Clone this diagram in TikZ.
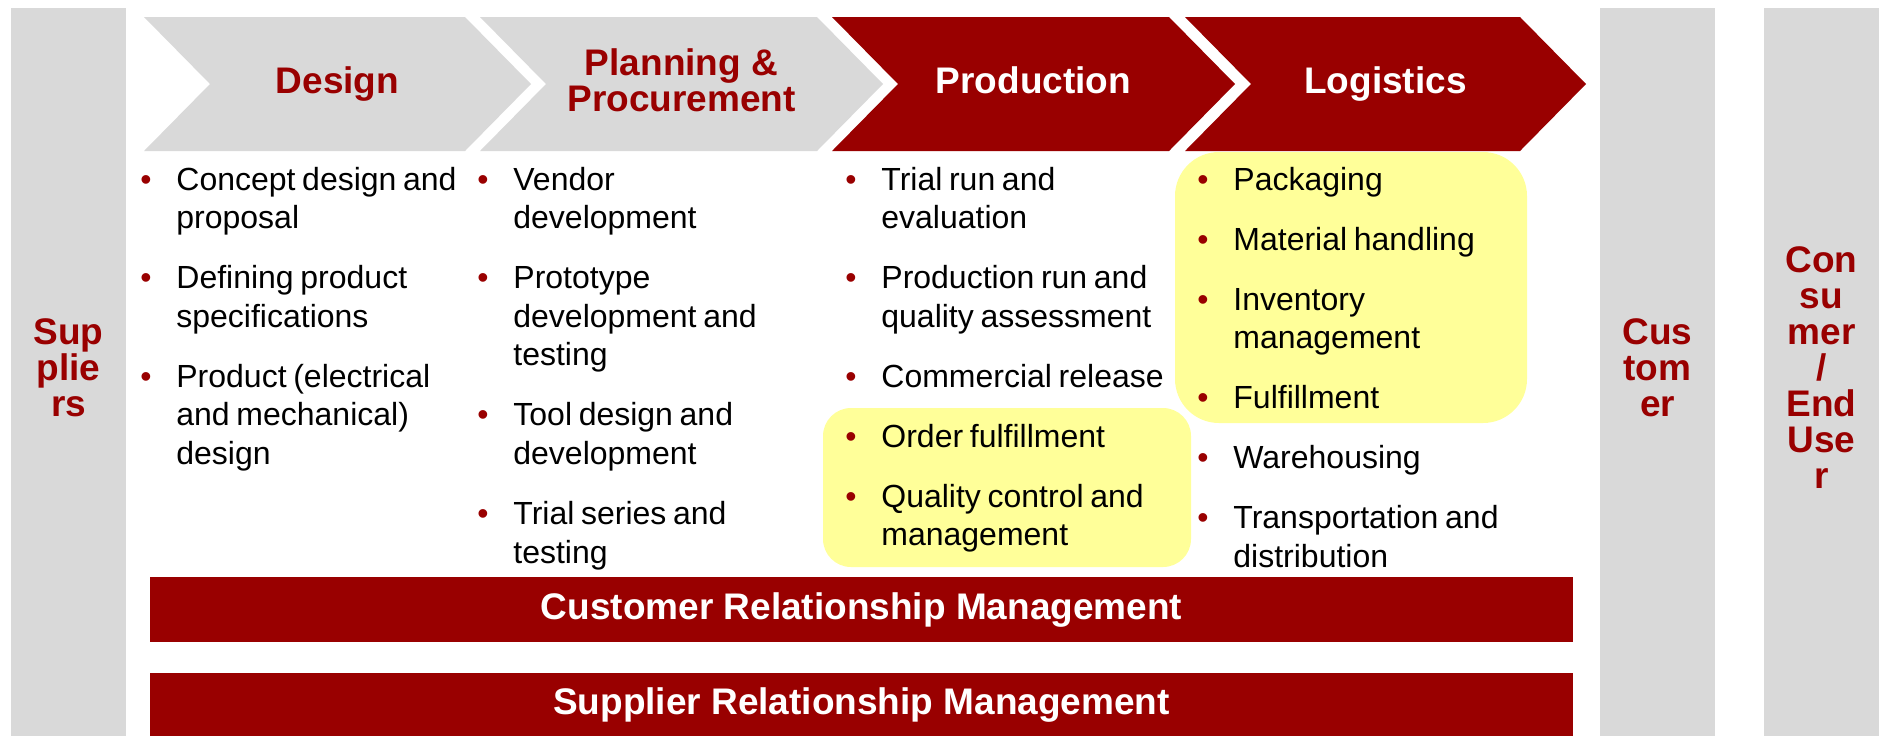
\documentclass[tikz,border=0pt]{standalone}
\usepackage{fontspec}
\setmainfont{Liberation Sans}
\usepackage{xcolor}
\definecolor{chainred}{HTML}{990000}
\definecolor{chaingray}{HTML}{D9D9D9}
\definecolor{chainyellow}{HTML}{FFFF99}
\usepackage{tikz}
\usetikzlibrary{math}

\newcommand{\headfont}{\fontsize{18.5pt}{18pt}\selectfont\bfseries}
\newcommand{\listfont}{\fontsize{16pt}{19.3pt}\selectfont\setlength{\parskip}{10.7pt}}
\newcommand{\itm}[1]{\noindent\hangindent=18pt\hangafter=1%
    \makebox[18pt][l]{\textcolor{chainred}{\textbullet}}#1\par}

\begin{document}
\begin{tikzpicture}[x=0.5pt, y=-0.5pt]
    \tikzset{%
        sidefill/.style={fill=chaingray},
        sidetext/.style={text=chainred, font=\headfont, align=center, inner sep=0pt},
        relbar/.style={fill=chainred, text=white, font=\headfont, inner sep=0pt, minimum width=711.5pt},
        hlbox/.style={fill=chainyellow, rounded corners=#1},
        bullets/.style={anchor=base west, inner sep=0pt, text width=180pt},
        pics/chevron/.style args={#1/#2/#3/#4}{code={%
                        \tikzmath{%
                            \chevh=134;
                            \chevd=66;
                        };
                        \fill [#2] (0, 0) -- ++(#1, 0) -- ++(\chevd, \chevh/2) -- ++(-\chevd, \chevh/2)
                            -- ++(-#1, 0) -- ++(\chevd, -\chevh/2) -- cycle;
                        \node (-label) at ({(\chevd+#1)/2}, 67) [text=#3, font=\headfont, align=center, inner sep=0pt] {#4\vphantom{g}};
                    }
            }
    }

    \useasboundingbox (0, 0) rectangle (1879, 736);

    \fill [sidefill] (11, 8) rectangle (126, 736);
    \fill [sidefill] (1600, 8) rectangle (1715, 736);
    \fill [sidefill] (1764, 8) rectangle (1879, 736);
    \node [sidetext] (suppliers) at (68.5, 368) {Sup\\plie\\rs};
    \node [sidetext] (customer) at (1657.5, 368) {Cus\\tom\\er};
    \node [sidetext] (consumer) at (1821.5, 368) {Con\\su\\mer\\/\\End\\Use\\r};

    \fill [hlbox=14pt] (823, 408) rectangle (1191, 567);
    \fill [hlbox=22pt] (1175, 152) rectangle (1527, 423);

    \pic (design) at (144, 17) {chevron=321/chaingray/chainred/Design};
    \pic (planning) at (480, 17) {chevron=337/chaingray/chainred/Planning \&\\Procurement};
    \pic (production) at (832, 17) {chevron=337/chainred/white/Production};
    \pic (logistics) at (1185, 17) {chevron=335/chainred/white/Logistics};

    \node [bullets] (designlist) at (140, 190) {\listfont
        \itm{Concept design and\newline proposal}
        \itm{Defining product\newline specifications}
        \itm{Product (electrical\newline and mechanical)\newline design}};
    \node [bullets] (planninglist) at (477, 190) {\listfont
        \itm{Vendor\newline development}
        \itm{Prototype\newline development and\newline testing}
        \itm{Tool design and\newline development}
        \itm{Trial series and\newline testing}};
    \node [bullets] (productionlist) at (845, 190) {\listfont
        \itm{Trial run and\newline evaluation}
        \itm{Production run and\newline quality assessment}
        \itm{Commercial release}
        \itm{Order fulfillment}
        \itm{Quality control and\newline management}};
    \node [bullets] (logisticslist) at (1197, 190) {\listfont
        \itm{Packaging}
        \itm{Material handling}
        \itm{Inventory\newline management}
        \itm{Fulfillment}
        \itm{Warehousing}
        \itm{Transportation and\newline distribution}};

    \node [relbar, minimum height=32.5pt] (crm) at (861.5, 609.5) {Customer Relationship Management};
    \node [relbar, minimum height=31.5pt] (srm) at (861.5, 704.5) {Supplier Relationship Management};
\end{tikzpicture}
\end{document}
